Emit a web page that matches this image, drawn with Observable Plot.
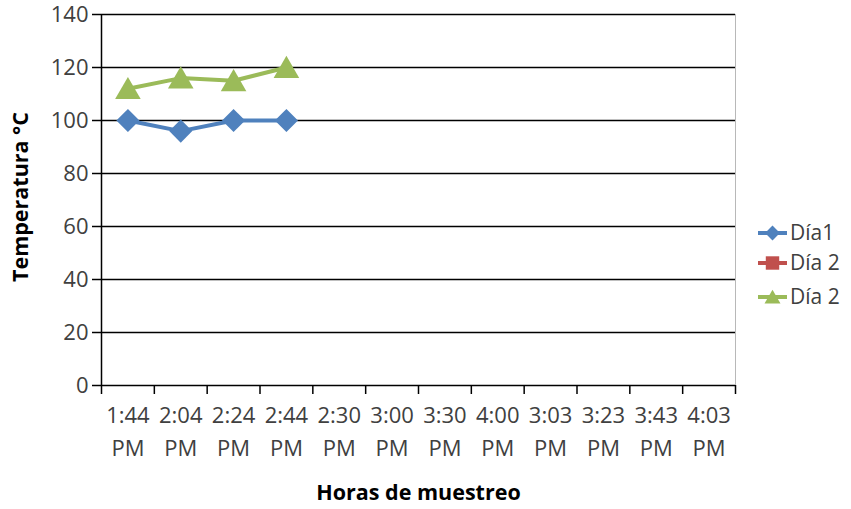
<!DOCTYPE html>
<html>
<head>
<meta charset="utf-8">
<script src="https://cdn.jsdelivr.net/npm/d3@7"></script>
<script src="https://cdn.jsdelivr.net/npm/@observablehq/plot@0.6"></script>
<style>
  html, body { margin: 0; padding: 0; background: #fff; }
  #wrap { position: relative; width: 851px; height: 509px; font-family: "Open Sans", sans-serif; }
  #legend { position: absolute; left: 755px; top: 214px; }
</style>
</head>
<body>
<div id="wrap"></div>
<script>
// ---- data ----
const categorias = ["1:44 PM", "2:04 PM", "2:24 PM", "2:44 PM", "2:30 PM", "3:00 PM",
                    "3:30 PM", "4:00 PM", "3:03 PM", "3:23 PM", "3:43 PM", "4:03 PM"];
const dia1 = [100, 96, 100, 100];
const dia2Rojo = [];
const dia2Verde = [112, 116, 115, 120];
const yTicks = [0, 20, 40, 60, 80, 100, 120, 140];
const seriesNames = ["Día1", "Día 2", "Día 2"];
const seriesColors = ["#4F81BD", "#C0504D", "#9BBB59"];

const toRows = (vals) => vals.map((v, i) => ({cat: categorias[i], v}));
const rows1 = toRows(dia1);
const rowsR = toRows(dia2Rojo);
const rowsG = toRows(dia2Verde);

const W = 851, H = 509, mL = 101, mR = 116, mT = 14, mB = 124;
const bw = (W - mL - mR) / categorias.length;
const tickColor = "#404040";

const chart = Plot.plot({
  width: W, height: H,
  marginLeft: mL, marginRight: mR, marginTop: mT, marginBottom: mB,
  style: {fontFamily: "Open Sans, sans-serif", fontSize: "22px", background: "#fff", overflow: "visible"},
  x: {type: "band", domain: categorias, padding: 0, round: false, axis: null},
  y: {domain: [0, 140], axis: null},
  marks: [
    // right light border
    Plot.ruleX([categorias[categorias.length - 1]], {dx: bw / 2, stroke: "#b8b8b8", strokeWidth: 1}),
    // horizontal gridlines
    Plot.ruleY(yTicks, {stroke: "#000", strokeWidth: 1.5}),
    // vertical axis line
    Plot.ruleX([categorias[0]], {dx: -bw / 2, stroke: "#000", strokeWidth: 1.5}),
    // y axis ticks and labels
    Plot.axisY({ticks: yTicks, tickSize: 9, tickPadding: 4, stroke: "#000", strokeWidth: 1.5,
                fill: tickColor, fontSize: 22, label: null}),
    // x boundary ticks
    Plot.axisX({tickSize: 9, tickFormat: () => "", dx: -bw / 2, stroke: "#000", strokeWidth: 1.5, label: null}),
    Plot.axisX({ticks: [categorias[categorias.length - 1]], tickSize: 9, tickFormat: () => "", dx: bw / 2,
                stroke: "#000", strokeWidth: 1.5, label: null}),
    // x tick labels (two lines)
    Plot.text(categorias, {x: d => d, frameAnchor: "bottom", text: d => d.replace(" ", "\n"),
                           lineAnchor: "top", lineHeight: 1.5, dy: 14, fontSize: 22, fill: tickColor}),
    // series
    Plot.line(rowsR, {x: "cat", y: "v", stroke: seriesColors[1], strokeWidth: 4}),
    Plot.dot(rowsR, {x: "cat", y: "v", symbol: "square", r: 8, fill: seriesColors[1]}),
    Plot.line(rows1, {x: "cat", y: "v", stroke: seriesColors[0], strokeWidth: 4}),
    Plot.dot(rows1, {x: "cat", y: "v", symbol: "diamond2", r: 10.4, fill: seriesColors[0]}),
    Plot.line(rowsG, {x: "cat", y: "v", stroke: seriesColors[2], strokeWidth: 4}),
    Plot.dot(rowsG, {x: "cat", y: "v", symbol: "triangle", r: 9.5, fill: seriesColors[2], dy: 3}),
    // axis titles
    Plot.text(["Temperatura °C"], {frameAnchor: "left", textAnchor: "middle", rotate: -90, dx: -80, dy: -3,
                                    fontWeight: "bold", fontSize: 21.5, fill: "#000"}),
    Plot.text(["Horas de muestreo"], {frameAnchor: "bottom", dy: 114, fontWeight: "bold",
                                       fontSize: 21.5, fill: "#000"})
  ]
});
document.getElementById("wrap").appendChild(chart);

// ---- legend ----
const leg = d3.create("svg").attr("width", 96).attr("height", 100).attr("id", "legend");
const ys = [19, 49, 83];
const shapes = [d3.symbolDiamond2, d3.symbolSquare, d3.symbolTriangle];
const sizes = [140, 180, 110];
seriesNames.forEach((name, i) => {
  const g = leg.append("g").attr("transform", `translate(0,${ys[i]})`);
  g.append("line").attr("x1", 3).attr("x2", 32).attr("stroke", seriesColors[i]).attr("stroke-width", 4);
  g.append("path").attr("d", d3.symbol(shapes[i], sizes[i])()).attr("transform", `translate(17.5,${i === 2 ? 2 : 0})`)
    .attr("fill", seriesColors[i]);
  g.append("text").attr("x", 35).attr("dy", "0.35em").attr("font-size", 21).attr("fill", tickColor)
    .attr("font-family", "Open Sans, sans-serif").text(name);
});
document.getElementById("wrap").appendChild(leg.node());
</script>
</body>
</html>
